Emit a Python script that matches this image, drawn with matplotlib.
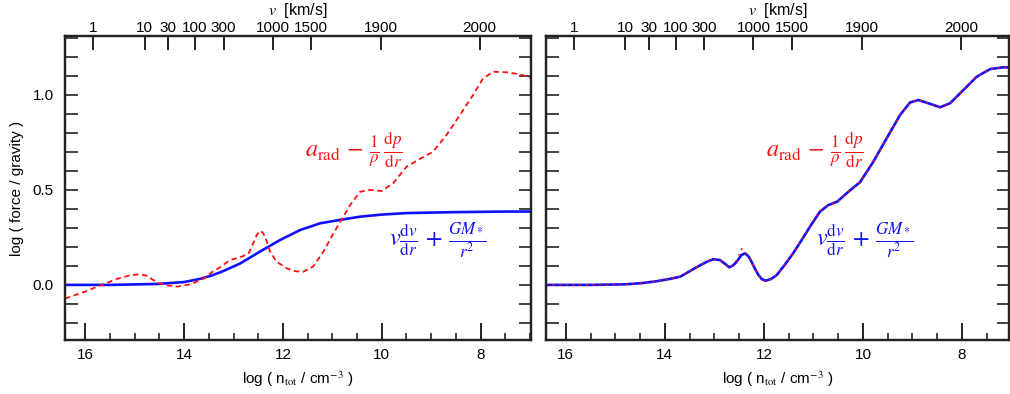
import matplotlib
matplotlib.use("Agg")
import matplotlib.pyplot as plt
from matplotlib.ticker import MultipleLocator, FuncFormatter

plt.rcParams['font.family'] = ['Liberation Sans', 'DejaVu Sans']
plt.rcParams['mathtext.fontset'] = 'stix'

# ---- data: log density (x) vs log(force/gravity) ----
# left panel: blue = inertia + gravity, red = radiative + pressure
left_blue_n = [16.41, 15.5, 14.54, 14.0, 13.69, 13.47, 13.27, 12.87, 12.46, 12.06,
               11.65, 11.25, 10.85, 10.44, 10.0, 9.5, 8.5, 7.5, 6.98]
left_blue_v = [0.0, 0.0, 0.005, 0.015, 0.031, 0.047, 0.066, 0.112, 0.176, 0.236,
               0.289, 0.324, 0.342, 0.359, 0.370, 0.378, 0.383, 0.386, 0.386]

left_red_n = [16.41, 16.0, 15.67, 15.34, 15.1, 14.94, 14.77, 14.65, 14.54, 14.35, 14.14,
              13.87, 13.6, 13.42, 13.27, 13.07, 12.87, 12.70, 12.60, 12.53, 12.46, 12.41,
              12.36, 12.26, 12.13, 11.92, 11.75, 11.59, 11.39, 11.18, 10.98, 10.81, 10.64,
              10.44, 10.24, 10.0, 9.77, 9.50, 9.23, 8.96, 8.69, 8.42, 8.15, 7.95, 7.74,
              7.47, 7.20, 6.98]
left_red_v = [-0.072, -0.035, 0.0, 0.033, 0.05, 0.055, 0.05, 0.03, 0.012, -0.002, -0.009,
              0.003, 0.034, 0.07, 0.093, 0.131, 0.145, 0.163, 0.219, 0.262, 0.285, 0.275,
              0.254, 0.175, 0.122, 0.087, 0.072, 0.069, 0.096, 0.175, 0.271, 0.345, 0.42,
              0.49, 0.50, 0.494, 0.535, 0.622, 0.663, 0.701, 0.789, 0.894, 1.0, 1.087, 1.122,
              1.119, 1.108, 1.09]

# right panel: both curves almost identical
right_blue_n = [16.40, 15.5, 14.8, 14.48, 14.2, 13.91, 13.69, 13.36, 13.15, 13.02, 12.89,
                12.78, 12.70, 12.62, 12.55, 12.45, 12.38, 12.31, 12.25, 12.18, 12.11, 12.04,
                11.96, 11.85, 11.74, 11.58, 11.41, 11.24, 11.07, 10.87, 10.70, 10.52, 10.25,
                10.06, 9.79, 9.52, 9.25, 9.05, 8.88, 8.68, 8.44, 8.24, 7.97, 7.70, 7.43,
                7.17, 7.03]
right_blue_v = [0.0, 0.0, 0.003, 0.009, 0.018, 0.031, 0.043, 0.093, 0.122, 0.135, 0.131,
                0.110, 0.093, 0.103, 0.122, 0.158, 0.166, 0.150, 0.122, 0.085, 0.052, 0.030,
                0.022, 0.032, 0.052, 0.105, 0.166, 0.235, 0.306, 0.385, 0.420, 0.438, 0.500,
                0.540, 0.648, 0.772, 0.894, 0.960, 0.973, 0.956, 0.935, 0.956, 1.026, 1.096,
                1.136, 1.145, 1.145]
right_red_n = right_blue_n
right_red_v = [0.0, 0.0, 0.003, 0.009, 0.018, 0.031, 0.043, 0.093, 0.122, 0.135, 0.131,
               0.110, 0.091, 0.105, 0.130, 0.190, 0.172, 0.150, 0.120, 0.083, 0.050, 0.026,
               0.017, 0.030, 0.052, 0.105, 0.166, 0.235, 0.306, 0.385, 0.420, 0.438, 0.500,
               0.540, 0.648, 0.772, 0.894, 0.960, 0.973, 0.956, 0.932, 0.956, 1.026, 1.096,
               1.136, 1.145, 1.145]

# top axis: velocity labels at corresponding densities
v_tick_n = [15.84, 14.80, 14.32, 13.78, 13.20, 12.21, 11.43, 10.02, 8.02]
v_tick_labels = ['1', '10', '30', '100', '300', '1000', '1500', '1900', '2000']

RED = '#ff1010'
BLUE = '#1010ff'
DARK = '#222222'

fig = plt.figure(figsize=(10.10, 3.94), dpi=100)
ax1 = fig.add_axes([65/1010, 54/394, 466/1010, 304/394])
ax2 = fig.add_axes([546/1010, 54/394, 463/1010, 304/394])

red_label = r'$a_{\rm rad}\,-\,\frac{1}{\rho}\,\frac{{\rm d}p}{{\rm d}r}$'
blue_label = r'$v\frac{{\rm d}v}{{\rm d}r}\,+\,\frac{GM_*}{r^2}$'


def style(ax, xlim, show_ylabels):
    ax.set_xlim(*xlim)
    ax.set_ylim(-0.29, 1.31)
    ax.xaxis.set_major_locator(MultipleLocator(2))
    ax.xaxis.set_minor_locator(MultipleLocator(0.5))
    ax.yaxis.set_major_locator(MultipleLocator(0.5))
    ax.yaxis.set_minor_locator(MultipleLocator(0.1))
    ax.tick_params(axis='x', which='major', direction='in', length=12, width=1.4,
                   labelsize=11, pad=6, top=False, bottom=True, colors=DARK, labelcolor='black')
    ax.tick_params(axis='x', which='minor', direction='in', length=5, width=1.2,
                   top=False, bottom=True, colors=DARK)
    ax.tick_params(axis='y', which='both', direction='in', length=9, width=1.2,
                   left=True, right=True, labelsize=11, pad=8, colors=DARK,
                   labelcolor='black', labelleft=show_ylabels)
    for s in ax.spines.values():
        s.set_linewidth(1.6)
        s.set_color(DARK)
    ax.xaxis.set_major_formatter(FuncFormatter(lambda v, p: f'{v:.0f}'))
    ax.yaxis.set_major_formatter(FuncFormatter(lambda v, p: f'{v:.1f}'))
    ax.set_xlabel(r'log ( n$_{\rm tot}$ / cm$^{-3}$ )', fontsize=11, labelpad=5)
    top = ax.twiny()
    top.set_xlim(*xlim)
    top.set_xticks(v_tick_n)
    top.set_xticklabels(v_tick_labels)
    top.tick_params(axis='x', which='major', direction='in', length=10, width=1.4,
                    labelsize=11, pad=1, colors=DARK, labelcolor='black')
    top.tick_params(axis='x', which='minor', length=0)
    top.set_xlabel(r'$v$  [km/s]', fontsize=11.5, labelpad=4)
    for s in top.spines.values():
        s.set_linewidth(1.6)
        s.set_color(DARK)
    return top


# left panel
ax1.plot(left_blue_n, left_blue_v, color=BLUE, lw=1.9)
ax1.plot(left_red_n, left_red_v, color=RED, lw=1.3, dashes=(3, 2))
style(ax1, (16.41, 6.98), True)
ax1.set_ylabel('log ( force / gravity )', fontsize=11, labelpad=6)
ax1.text(11.55, 0.71, red_label, color=RED, fontsize=17.5, ha='left', va='center')
ax1.text(9.85, 0.235, blue_label, color=BLUE, fontsize=17.5, ha='left', va='center')

# right panel
ax2.plot(right_blue_n, right_blue_v, color=BLUE, lw=1.9)
ax2.plot(right_red_n, right_red_v, color=RED, lw=1.2, linestyle=(0, (1, 3)))
style(ax2, (16.40, 7.05), False)
ax2.text(11.95, 0.71, red_label, color=RED, fontsize=17.5, ha='left', va='center')
ax2.text(10.95, 0.235, blue_label, color=BLUE, fontsize=17.5, ha='left', va='center')

fig.savefig('out.png', dpi=100)
